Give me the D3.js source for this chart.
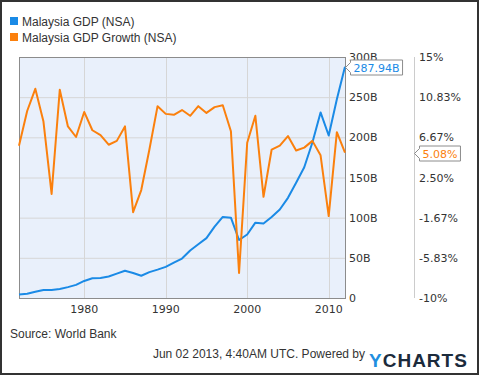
<!DOCTYPE html>
<html>
<head>
<meta charset="utf-8" />
<title>Malaysia GDP</title>
<script src="https://cdn.jsdelivr.net/npm/d3@7"></script>
<style>
  body { margin: 0; background: #fff; }
  text { font-family: "DejaVu Sans", sans-serif; }
  .lab { font-family: "Liberation Sans", Arial, sans-serif; }
</style>
</head>
<body>
<svg width="480" height="376"></svg>
<script>
// data (billions USD, annual % growth)
var years = d3.range(1971, 2012);
var gdp = [4.24, 5.18, 7.66, 9.97, 9.91, 11.25, 13.52, 16.36, 21.21, 24.49,
           25.0, 26.8, 30.3, 33.9, 31.2, 27.7, 32.2, 35.3, 38.8, 44.0,
           49.1, 59.2, 66.9, 74.5, 88.8, 100.9, 100.0, 72.2, 79.1, 93.8,
           92.8, 100.8, 110.2, 124.7, 143.5, 162.7, 193.5, 231.0, 202.3, 247.5,
           287.94];
var growth = [5.8, 9.4, 11.7, 8.3, 0.8, 11.6, 7.8, 6.7, 9.3, 7.4,
              6.9, 5.9, 6.3, 7.8, -1.1, 1.2, 5.4, 9.9, 9.1, 9.0,
              9.5, 8.9, 9.9, 9.2, 9.8, 10.0, 7.3, -7.4, 6.1, 8.9,
              0.5, 5.4, 5.8, 6.8, 5.3, 5.6, 6.3, 4.8, -1.5, 7.2,
              5.08];
var xTicks = [1980, 1990, 2000, 2010];
var gdpTicks = [0, 50, 100, 150, 200, 250, 300];
var gdpTickLabels = ["0", "50B", "100B", "150B", "200B", "250B", "300B"];
var growthTicks = [-10, -5.8333, -1.6667, 2.5, 6.6667, 10.8333, 15];
var growthTickLabels = ["-10%", "-5.83%", "-1.67%", "2.50%", "6.67%", "10.83%", "15%"];
var seriesNames = ["Malaysia GDP (NSA)", "Malaysia GDP Growth (NSA)"];

var blue = "#1a8ae6", orange = "#fb800d";
var svg = d3.select("svg");
var L = 19, R = 345, T = 57, B = 298;

var dates = years.map(y => new Date(y, 11, 31));
var x = d3.scaleTime().domain([dates[0], dates[dates.length - 1]]).range([L, R]);
var yL = d3.scaleLinear().domain([0, 300]).range([B, T]);
var yR = d3.scaleLinear().domain([-10, 15]).range([B, T]);

// outer frame
svg.append("rect").attr("x", 1).attr("y", 1).attr("width", 477).attr("height", 373)
   .attr("fill", "none").attr("stroke", "#333").attr("stroke-width", 2);

// plot background
svg.append("rect").attr("x", L).attr("y", T).attr("width", R - L).attr("height", B - T)
   .attr("fill", "#e9f0fb");

// grid
svg.append("g").selectAll("line").data(gdpTicks).join("line")
   .attr("x1", L).attr("x2", R)
   .attr("y1", d => yL(d) + 0.5).attr("y2", d => yL(d) + 0.5)
   .attr("stroke", "#d6d6d6");
svg.append("g").selectAll("line").data(xTicks).join("line")
   .attr("x1", d => Math.round(x(new Date(d, 0, 1))) + 0.5)
   .attr("x2", d => Math.round(x(new Date(d, 0, 1))) + 0.5)
   .attr("y1", T).attr("y2", B)
   .attr("stroke", "#d6d6d6");

// plot border
svg.append("rect").attr("x", L + 0.5).attr("y", T + 0.5).attr("width", R - L).attr("height", B - T)
   .attr("fill", "none").attr("stroke", "#8c8c8c");

// x labels
svg.append("g").selectAll("text").data(xTicks).join("text")
   .attr("x", d => x(new Date(d, 0, 1))).attr("y", 313)
   .attr("text-anchor", "middle").attr("font-size", 11).attr("fill", "#333")
   .text(d => d);

// left (GDP) labels
svg.append("g").selectAll("text").data(gdpTicks).join("text")
   .attr("x", 349).attr("y", d => yL(d) + 4)
   .attr("font-size", 11).attr("fill", "#333")
   .text((d, i) => gdpTickLabels[i]);

// right (growth) axis
svg.append("line").attr("x1", 414.5).attr("x2", 414.5).attr("y1", T).attr("y2", B)
   .attr("stroke", "#cccccc");
svg.append("g").selectAll("text").data(growthTicks).join("text")
   .attr("x", 419).attr("y", d => yR(d) + 4)
   .attr("font-size", 11).attr("fill", "#333")
   .text((d, i) => growthTickLabels[i]);

// lines
var lineG = d3.line().x((d, i) => x(dates[i])).y(d => yL(d));
var lineR = d3.line().x((d, i) => x(dates[i])).y(d => yR(d));
svg.append("path").attr("d", lineG(gdp)).attr("fill", "none")
   .attr("stroke", blue).attr("stroke-width", 2).attr("stroke-linejoin", "round");
svg.append("path").attr("d", lineR(growth)).attr("fill", "none")
   .attr("stroke", orange).attr("stroke-width", 2).attr("stroke-linejoin", "round");

// last-value callouts
function callout(px, py, bx, label, color) {
  var g = svg.append("g");
  var t = g.append("text").attr("x", bx + 3).attr("y", py + 4)
     .attr("font-size", 11).attr("fill", color).text(label);
  var w = t.node().getComputedTextLength() + 6;
  g.insert("path", "text")
   .attr("d", "M" + px + "," + py + "L" + bx + "," + (py - 5) + "L" + bx + "," + (py - 7.5) +
              "H" + (bx + w) + "V" + (py + 7.5) + "H" + bx + "V" + (py + 5) + "Z")
   .attr("fill", "#fff").attr("stroke", "#8c8c8c");
}
var n = years.length - 1;
callout(x(dates[n]) + 0.5, Math.round(yL(gdp[n])) + 0.5, 350.5, d3.format(".2f")(gdp[n]) + "B", blue);
callout(414.5, Math.round(yR(growth[n])) + 0.5, 419.5, d3.format(".2f")(growth[n]) + "%", orange);

// legend
var leg = svg.append("g").selectAll("g").data(seriesNames).join("g")
   .attr("transform", (d, i) => "translate(10," + (17 + i * 16) + ")");
leg.append("rect").attr("width", 8).attr("height", 8)
   .attr("fill", (d, i) => i ? orange : blue);
leg.append("text").attr("class", "lab").attr("x", 12).attr("y", 8.5)
   .attr("font-size", 12).attr("fill", "#333").text(d => d);

// source and footer
svg.append("text").attr("class", "lab").attr("x", 10).attr("y", 338)
   .attr("font-size", 12).attr("fill", "#333").text("Source: World Bank");
svg.append("text").attr("class", "lab").attr("x", 365).attr("y", 358)
   .attr("text-anchor", "end").attr("font-size", 12).attr("fill", "#333")
   .text("Jun 02 2013, 4:40AM UTC.  Powered by");
var logo = svg.append("text").attr("class", "lab").attr("x", 369).attr("y", 367)
   .attr("font-size", 19).attr("font-weight", "bold").attr("letter-spacing", 1);
logo.append("tspan").attr("fill", "#1f8fe0").text("Y");
logo.append("tspan").attr("fill", "#1c2b3c").text("CHARTS");
</script>
</body>
</html>
